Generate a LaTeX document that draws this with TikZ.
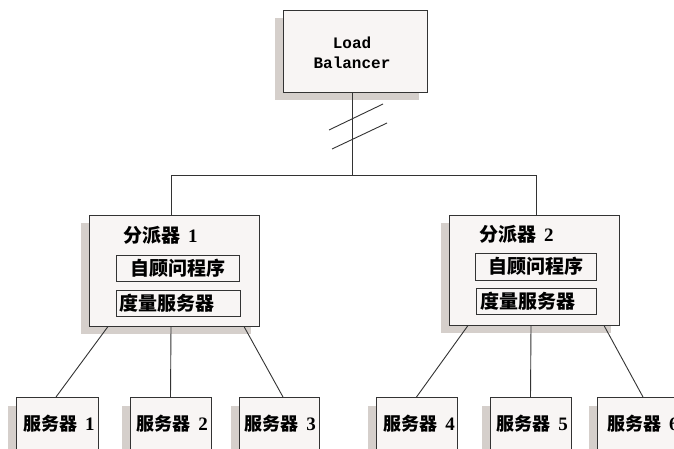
\documentclass[tikz,border=0pt]{standalone}
\usepackage{fontspec}
\newfontfamily\cjk{Noto Sans CJK SC}
\newfontfamily\lbfont{Liberation Mono}
\newfontfamily\dig{Liberation Serif}
\usetikzlibrary{shadows}
\definecolor{boxfill}{HTML}{F8F5F4}
\definecolor{shade}{HTML}{D5CFCB}
\definecolor{ink}{HTML}{333333}
\newcommand{\numlab}[1]{\hspace{8pt}{\dig\bfseries\fontsize{19}{22}\selectfont #1}}
\begin{document}
\begin{tikzpicture}[x=1pt,y=-1pt,
  box/.style={draw=ink,fill=boxfill,line width=1pt,inner sep=0pt,
    drop shadow={shadow xshift=-8pt,shadow yshift=-8pt,fill=shade,opacity=1}},
  inbox/.style={draw=ink,fill=boxfill,line width=1pt,inner sep=0pt},
  conn/.style={draw=ink,line width=0.9pt},
  zh/.style={font=\cjk\bfseries\fontsize{19}{22}\selectfont,inner sep=0pt},
  zhs/.style={font=\cjk\bfseries\fontsize{18}{22}\selectfont,inner sep=0pt},
  server/.style={box,minimum width=81pt,minimum height=70pt,anchor=north},
]
\fill[white] (0,0) rectangle (674,448);
\useasboundingbox (0,0) rectangle (674,448);
\clip (0,0) rectangle (674,448);

% load balancer
\node[box,minimum width=144pt,minimum height=82pt] (lb) at (355,51) {};
\node[font=\lbfont\bfseries\fontsize{16}{20}\selectfont,align=center,inner sep=0pt] (lbt) at (352,53) {Load\\Balancer};

\coordinate (jt) at (352,175);
\coordinate (j1) at (171,175);
\coordinate (j2) at (536,175);
\draw[conn] ([xshift=-3pt]lb.south) -- (jt);
\draw[conn] (329,130) -- (383,104);
\draw[conn] (332,149) -- (387,123);

% dispatchers
\node[box,minimum width=170pt,minimum height=111pt] (d1) at (174,270.5) {};
\node[box,minimum width=170pt,minimum height=110pt] (d2) at (534,270) {};
\draw[conn] (d1.north -| j1) -- (j1) -- (j2) -- (d2.north -| j2);

\node[zh,anchor=west] (d1l) at (123,235) {分派器\numlab{1}};
\node[inbox,zh,minimum width=123pt,minimum height=26pt] (d1a) at (177.5,268) {自顾问程序};
\node[inbox,zh,inner xsep=3pt,text width=118pt,align=left,minimum height=26pt] (d1b) at (178,303) {度量服务器};

\node[zh,anchor=west] (d2l) at (479,234) {分派器\numlab{2}};
\node[inbox,zh,minimum width=121pt,minimum height=27pt] (d2a) at (535.5,266.5) {自顾问程序};
\node[inbox,zh,inner xsep=4pt,text width=112pt,align=left,minimum height=26pt] (d2b) at (536,301) {度量服务器};

% servers
\node[server,minimum width=82pt] (s1) at (57,397) {};
\node[server] (s2) at (170.5,397) {};
\node[server,minimum width=80pt] (s3) at (279,397) {};
\node[server] (s4) at (416.5,397) {};
\node[server] (s5) at (530.5,397) {};
\node[server,minimum width=82pt] (s6) at (638,397) {};

\node[zhs] (s1t) at (59,423.5) {服务器\numlab{1}};
\node[zhs] (s2t) at (172,423.5) {服务器\numlab{2}};
\node[zhs] (s3t) at (280,423.5) {服务器\numlab{3}};
\node[zhs] (s4t) at (419,423.5) {服务器\numlab{4}};
\node[zhs] (s5t) at (532,423.5) {服务器\numlab{5}};
\node[zhs,anchor=west] (s6t) at (607,423.5) {服务器\numlab{6}};

\draw[conn] ([xshift=-66pt]d1.south) -- ([xshift=-1pt]s1.north);
\draw[conn] ([xshift=-3pt]d1.south) -- (s2.north);
\draw[conn] ([xshift=70pt]d1.south) -- ([xshift=4pt]s3.north);
\draw[conn] ([xshift=-66pt]d2.south) -- (s4.north);
\draw[conn] ([xshift=-3pt]d2.south) -- (s5.north);
\draw[conn] ([xshift=70pt]d2.south) -- ([xshift=5pt]s6.north);
\end{tikzpicture}
\end{document}
